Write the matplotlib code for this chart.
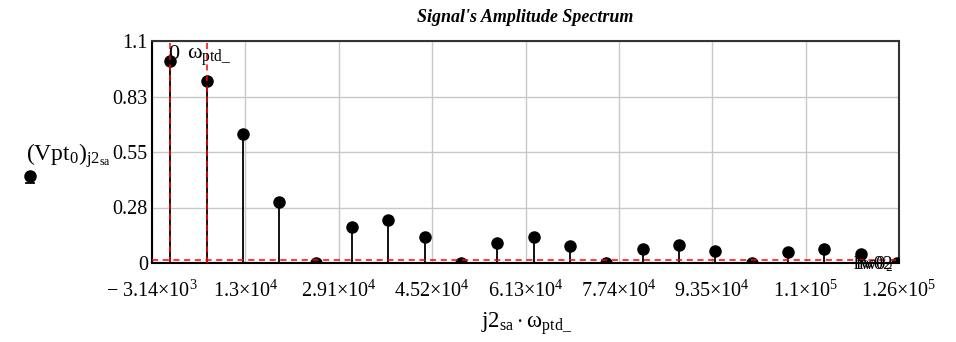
import matplotlib
matplotlib.use("Agg")
import matplotlib.pyplot as plt
from matplotlib.lines import Line2D

plt.rcParams['font.family'] = ['Liberation Serif', 'DejaVu Serif']
plt.rcParams['mathtext.fontset'] = 'custom'
plt.rcParams['mathtext.rm'] = 'Liberation Serif'
plt.rcParams['mathtext.it'] = 'Liberation Serif:italic'
plt.rcParams['mathtext.bf'] = 'Liberation Serif:bold'

# ---- data ----
omega_ptd = 6283.0
harmonic_index = list(range(21))
amplitudes = [1.0, 0.90, 0.637, 0.30, 0.0, 0.18, 0.212, 0.129, 0.0, 0.10,
              0.127, 0.082, 0.0, 0.069, 0.091, 0.060, 0.0, 0.053, 0.071, 0.047, 0.0]
x_ticks = [-3140, 13002, 29145, 45287, 61430, 77572, 93715, 109857, 126000]
x_tick_labels = [r'$-\ 3.14{\times}10^{3}$', r'$1.3{\times}10^{4}$', r'$2.91{\times}10^{4}$',
                 r'$4.52{\times}10^{4}$', r'$6.13{\times}10^{4}$', r'$7.74{\times}10^{4}$',
                 r'$9.35{\times}10^{4}$', r'$1.1{\times}10^{5}$', r'$1.26{\times}10^{5}$']
y_ticks = [0, 0.275, 0.55, 0.825, 1.1]
y_tick_labels = ['0', '0.28', '0.55', '0.83', '1.1']
vmarkers = [0.0, omega_ptd]
hmarker = 0.013

xs = [k * omega_ptd for k in harmonic_index]

W, H = 956, 342
fig = plt.figure(figsize=(W / 100, H / 100), dpi=100)
ax = fig.add_axes([152 / W, 1 - 263 / H, (899 - 152) / W, (263 - 41) / H])

ax.set_xlim(x_ticks[0], x_ticks[-1])
ax.set_ylim(0, 1.1)
ax.set_xticks(x_ticks)
ax.set_xticklabels(x_tick_labels, fontsize=14.5)
ax.set_yticks(y_ticks)
ax.set_yticklabels(y_tick_labels, fontsize=14.5)
ax.tick_params(axis='x', length=0, pad=13)
ax.tick_params(axis='y', length=0, pad=3)
ax.grid(True, color='#c8c8c8', lw=1)
ax.set_axisbelow(True)

for s in ['left', 'bottom']:
    ax.spines[s].set_color('black')
    ax.spines[s].set_linewidth(1.5)
for s in ['top', 'right']:
    ax.spines[s].set_color('#333333')
    ax.spines[s].set_linewidth(1.5)

# stems
for x, a in zip(xs, amplitudes):
    ax.plot([x, x], [0, a], color='black', lw=1.3, zorder=3)
ax.plot(xs, amplitudes, 'o', color='black', ms=8, zorder=4)

# markers
for xm in vmarkers:
    ax.axvline(xm, color='red', ls=(0, (4, 3)), lw=1.1, zorder=5)
ax.axhline(hmarker, color='red', ls=(0, (4, 3)), lw=1.1, zorder=5)
ax.axhline(0, color='black', ls=(0, (4, 3)), lw=1.5, zorder=5)

ax.text(vmarkers[0] + 600, 1.08, '0', fontsize=16, ha='center', va='top', zorder=6)
ax.text(vmarkers[1] + 500, 1.08, r'$\mathrm{ω}_{\mathrm{ptd\_}}$', fontsize=16,
        ha='center', va='top', zorder=6)
ax.text(125000, -0.005, 'lw02', fontsize=13.5, ha='right', va='center', zorder=6, clip_on=False)
ax.text(125000, -0.005, r'hw0$_2$', fontsize=13.5, ha='right', va='center', zorder=6, clip_on=False)

fig.text(525 / W, 1 - 18 / H, "Signal's Amplitude Spectrum", fontsize=13,
         fontweight='bold', fontstyle='italic', ha='center', va='center')
fig.text(527 / W, 1 - 324 / H, r'$\mathrm{j2}_{\mathrm{sa}}\cdot\mathrm{ω}_{\mathrm{ptd\_}}$',
         fontsize=16.5, ha='center', va='center')
fig.text(26 / W, 1 - 156 / H,
         r'$(\mathrm{Vpt}_{0})_{\mathrm{j2}_{\mathrm{sa}}}$',
         fontsize=17, ha='left', va='center')
fig.add_artist(Line2D([30 / W], [1 - 176 / H], marker='o', color='black', ms=8,
                      transform=fig.transFigure))
fig.add_artist(Line2D([26 / W, 34 / W], [1 - 183 / H, 1 - 183 / H], color='black', lw=1.3,
                      transform=fig.transFigure))

fig.savefig('out.png', dpi=100)
